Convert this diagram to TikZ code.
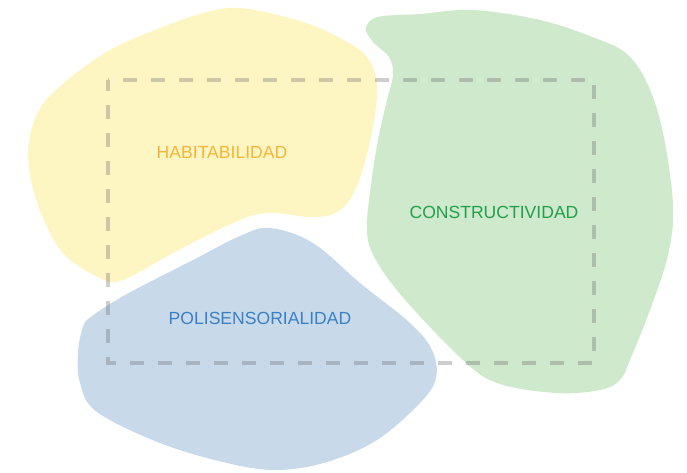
\documentclass[tikz,border=0pt]{standalone}
\usepackage{fontspec}
\setmainfont{Liberation Sans}
\usepackage{tikz}
\usetikzlibrary{positioning}
\definecolor{SoftYellow}{HTML}{FDF6C3}
\definecolor{SoftGreen}{HTML}{CFE9CD}
\definecolor{SoftBlue}{HTML}{C8DAEA}
\definecolor{AccentYellow}{HTML}{F7B538}
\definecolor{AccentGreen}{HTML}{21A04B}
\definecolor{AccentBlue}{HTML}{3A80C6}

\begin{document}
\begin{tikzpicture}[x=0.02cm, y=-0.02cm, every node/.style={font=\fontsize{10}{12}\selectfont},
  blob/.style={smooth cycle, tension=0.6}]
  \useasboundingbox (0,0) rectangle (687,473);
  % the three areas
  \fill[SoftYellow] plot[blob] coordinates {(240,8) (300,21) (340,38) (367,57) (377,85) (373,127)
    (362,172) (349,201) (333,214) (310,217) (267,213) (233,223) (175,252) (123,280) (100,278)
    (62,252) (38,205) (28,155) (38,112) (65,82) (110,50) (160,28) (200,14)};
  \fill[SoftGreen] plot[blob] coordinates {(378,17) (420,14) (473,10) (540,20) (595,38) (627,54)
    (648,85) (663,133) (673,205) (668,255) (650,310) (630,360) (620,380) (600,390) (557,393)
    (500,384) (465,362) (407,302) (377,262) (367,232) (371,185) (378,140) (387,100) (393,75)
    (389,57) (373,42) (366,28)};
  \fill[SoftBlue] plot[blob] coordinates {(270,228) (313,243) (360,283) (410,323) (432,350)
    (436,378) (420,403) (377,440) (327,462) (277,470) (227,463) (160,443) (97,412) (80,383)
    (78,353) (83,327) (92,316) (127,294) (193,260) (240,236)};
  % frame
  \draw[black!60, opacity=0.32, line width=0.08cm, dash pattern=on 0.28cm off 0.28cm, dash phase=0.05cm]
    (108,80) rectangle (594,363);
  % labels
  \node[text=AccentYellow] (habitabilidad) at (222,152) {HABITABILIDAD};
  \node[text=AccentGreen] (constructividad) at (494,212) {CONSTRUCTIVIDAD};
  \node[text=AccentBlue] (polisensorialidad) at (260,318) {POLISENSORIALIDAD};
\end{tikzpicture}
\end{document}
